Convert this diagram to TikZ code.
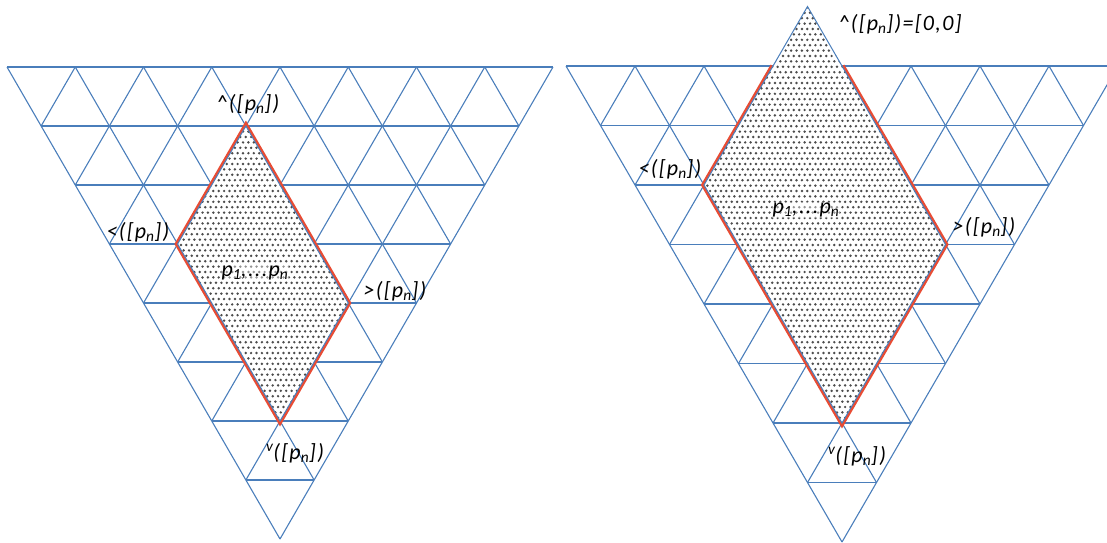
\documentclass[tikz,border=0pt]{standalone}
\usepackage{fontspec}
\setmainfont{Carlito}
\newfontfamily\lblfont[LetterSpace=6]{Carlito}
\usetikzlibrary{patterns}
\definecolor{gridblue}{RGB}{74,126,187}
\definecolor{edgered}{RGB}{232,76,52}
\pgfdeclarepatternformonly{diadots}{\pgfqpoint{-1.5pt}{-1.5pt}}{\pgfqpoint{4.5pt}{7.5pt}}{\pgfqpoint{5.4pt}{10.8pt}}{%
  \pgfpathcircle{\pgfqpoint{0pt}{0pt}}{1.35pt}%
  \pgfpathcircle{\pgfqpoint{2.7pt}{5.4pt}}{1.35pt}%
  \pgfusepath{fill}}
\tikzset{
  gridline/.style={draw=gridblue, line width=1.1pt},
  redline/.style={draw=edgered, line width=5.5pt, line join=miter},
  blueedge/.style={draw=gridblue, line width=1pt},
  dotfill/.style={fill=white, postaction={pattern=diadots, pattern color=black!70}},
  lbl/.style={font=\lblfont\itshape\fontsize{22}{25}\selectfont, inner sep=1pt},
  inlbl/.style={lbl, fill=white, fill opacity=0.4, text opacity=1}
}
\newcommand{\trigrid}[4]{%
  \foreach \k in {0,...,7}{%
    \draw[gridline] ({#1+\k*#3/2},{#2+\k*#4}) -- ({#1+8*#3-\k*#3/2},{#2+\k*#4});
  }%
  \foreach \i in {1,...,8}{%
    \draw[gridline] ({#1+\i*#3},{#2}) -- ({#1+\i*#3/2},{#2+\i*#4});
  }%
  \foreach \i in {0,...,7}{%
    \draw[gridline] ({#1+\i*#3},{#2}) -- ({#1+\i*#3+(8-\i)*#3/2},{#2+(8-\i)*#4});
  }%
}
\newcommand{\pn}{[p\textsubscript{n}]}
\begin{document}
\begin{tikzpicture}[x=1pt, y=-1pt]
\useasboundingbox (0,0) rectangle (1107,542);
\begin{scope}
\clip (0,0) rectangle (1107,542);
% ---------- left triangle ----------
\trigrid{7}{67}{68.25}{59}
\coordinate (LT) at (245.9,126);
\coordinate (LL) at (177.6,244);
\coordinate (LR) at (348.25,303);
\coordinate (LB) at (280,421);
\draw[redline] (LT) -- (LR) -- (LB) -- (LL) -- cycle;
\path[dotfill] (LT) -- (LR) -- (LB) -- (LL) -- cycle;
\draw[blueedge] (LT) -- (LR) -- (LB) -- (LL) -- cycle;
% ---------- right triangle ----------
\trigrid{566}{66}{69}{59.5}
\coordinate (RT) at (807.5,6.5);
\coordinate (RL) at (704,185);
\coordinate (RR) at (945.5,244.5);
\coordinate (RB) at (842,423);
\coordinate (RTa) at (773,66);
\coordinate (RTb) at (842,66);
\draw[redline] (RTb) -- (RR) -- (RB) -- (RL) -- (RTa);
\path[dotfill] (RT) -- (RR) -- (RB) -- (RL) -- cycle;
\draw[blueedge] (RT) -- (RR) -- (RB) -- (RL) -- cycle;
\end{scope}
% ---------- labels left ----------
\node[lbl] (ltop) at (248,104) {\textasciicircum(\pn)};
\node[lbl] (lleft) at (138,232) {<(\pn)};
\node[inlbl] (lmid) at (255,273) {p\textsubscript{1},...p\textsubscript{n}};
\node[lbl] (lright) at (395,291) {>(\pn)};
\node[lbl] (lbot) at (295,453) {\textsuperscript{v}(\pn)};
% ---------- labels right ----------
\node[lbl] (rtop) at (900,24) {\textasciicircum(\pn)=[0,0]};
\node[lbl] (rleft) at (670,169) {<(\pn)};
\node[inlbl] (rmid) at (806,210) {p\textsubscript{1},...p\textsubscript{n}};
\node[lbl] (rright) at (984,227) {>(\pn)};
\node[lbl] (rbot) at (857,456) {\textsuperscript{v}(\pn)};
\end{tikzpicture}
\end{document}
